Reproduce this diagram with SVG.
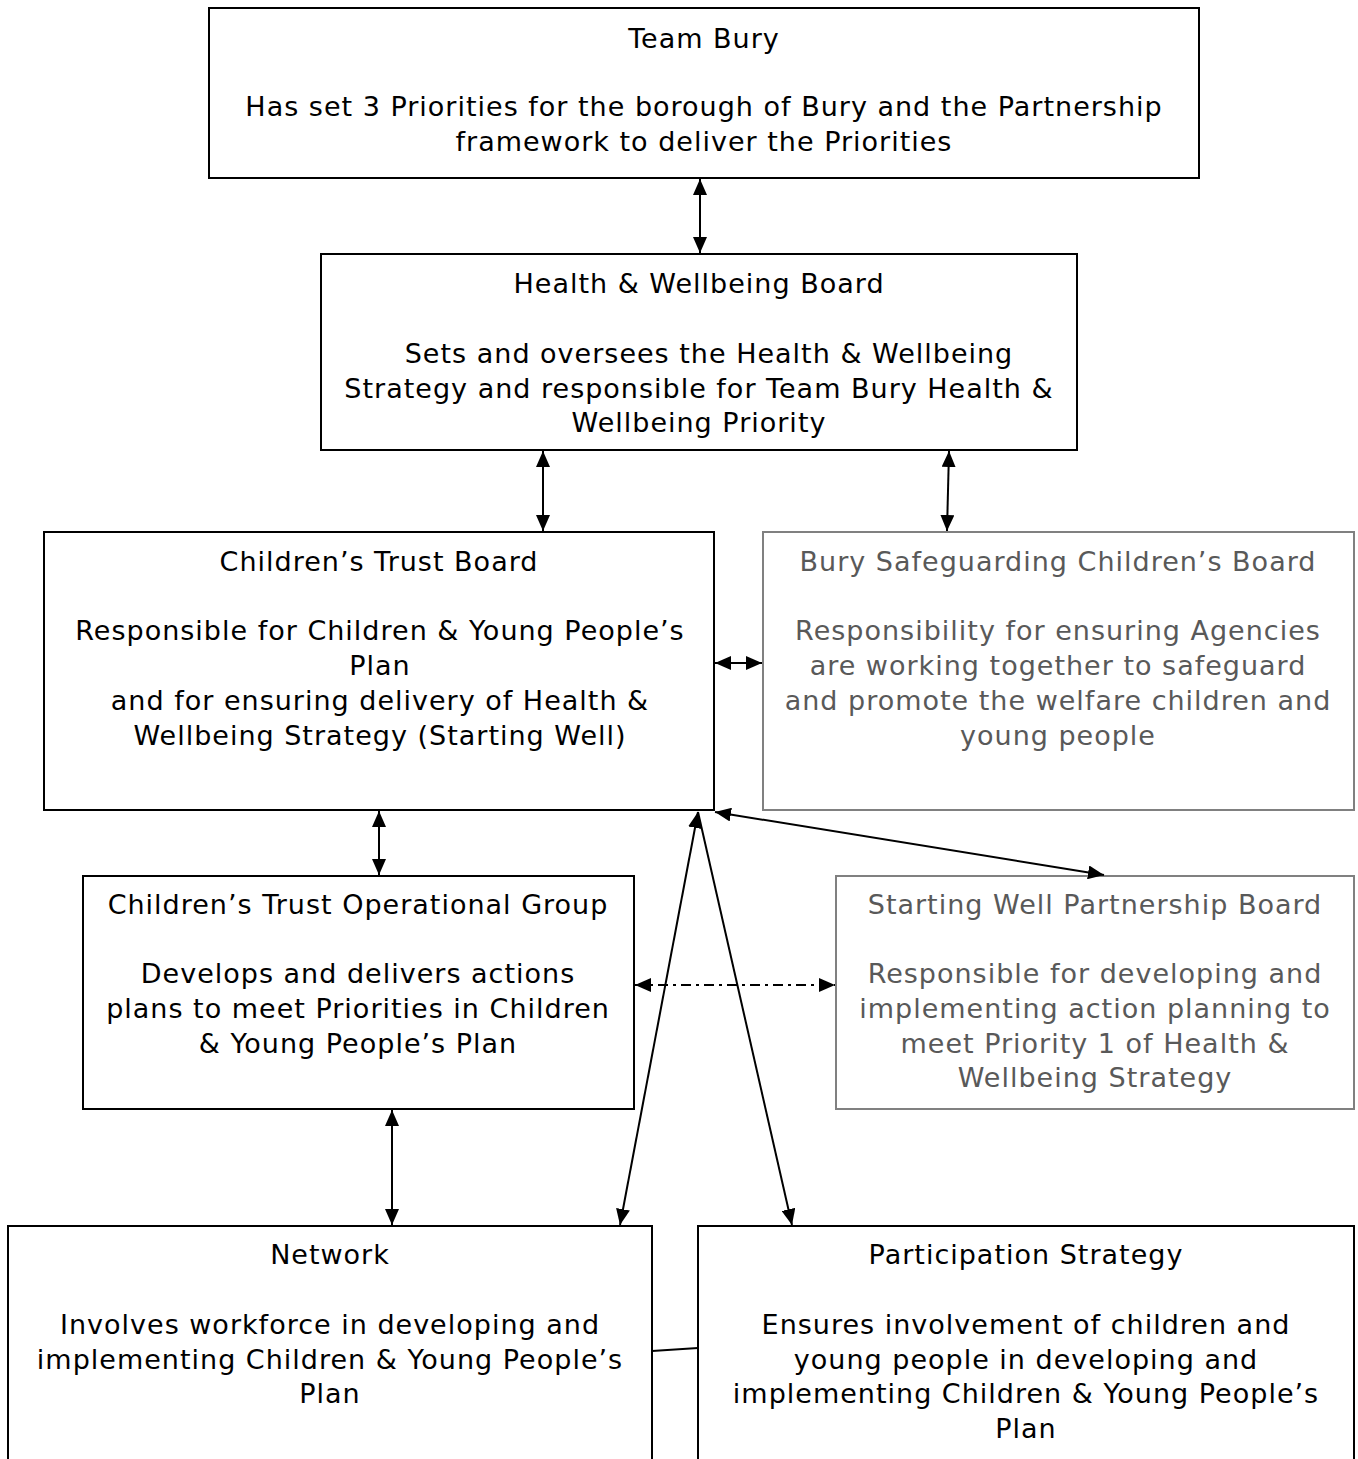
<svg xmlns="http://www.w3.org/2000/svg" width="1358" height="1459" viewBox="0 0 1358 1459">
<style>
text{font-family:"DejaVu Sans",Verdana,sans-serif;font-size:27px;letter-spacing:1px;text-anchor:middle;fill:#000}
.box{fill:#fff;stroke:#000;stroke-width:2}
.gbox{fill:#fff;stroke:#808080;stroke-width:2}
.g text{fill:#595959}
.c{stroke:#000;stroke-width:2;fill:none}
</style>
<defs>
<marker id="ah" viewBox="0 0 16 14" refX="16" refY="7" markerWidth="16" markerHeight="14" markerUnits="userSpaceOnUse" orient="auto-start-reverse">
<path d="M0,0 L16,7 L0,14 Z" fill="#000"/>
</marker>
</defs>
<rect width="1358" height="1459" fill="#fff"/>
<g id="team-bury">
<rect class="box" x="209" y="8" width="990" height="170"/>
<text x="704" y="48">Team Bury</text>
<text x="704" y="116">Has set 3 Priorities for the borough of Bury and the Partnership</text>
<text x="704" y="151">framework to deliver the Priorities</text>
</g>
<g id="hwb">
<rect class="box" x="321" y="254" width="756" height="196"/>
<text x="699" y="293">Health &amp; Wellbeing Board</text>
<text x="709" y="363">Sets and oversees the Health &amp; Wellbeing</text>
<text x="699" y="398">Strategy and responsible for Team Bury Health &amp;</text>
<text x="699" y="432">Wellbeing Priority</text>
</g>
<g id="ctb">
<rect class="box" x="44" y="532" width="670" height="278"/>
<text x="379" y="571">Children’s Trust Board</text>
<text x="380" y="640">Responsible for Children &amp; Young People’s</text>
<text x="380" y="675">Plan</text>
<text x="380" y="710">and for ensuring delivery of Health &amp;</text>
<text x="380" y="745">Wellbeing Strategy (Starting Well)</text>
</g>
<g id="bscb" class="g">
<rect class="gbox" x="763" y="532" width="591" height="278"/>
<text x="1058" y="571">Bury Safeguarding Children’s Board</text>
<text x="1058" y="640">Responsibility for ensuring Agencies</text>
<text x="1058" y="675">are working together to safeguard</text>
<text x="1058" y="710">and promote the welfare children and</text>
<text x="1058" y="745">young people</text>
</g>
<g id="ctog">
<rect class="box" x="83" y="876" width="551" height="233"/>
<text x="358" y="914">Children’s Trust Operational Group</text>
<text x="358" y="983">Develops and delivers actions</text>
<text x="358" y="1018">plans to meet Priorities in Children</text>
<text x="358" y="1053">&amp; Young People’s Plan</text>
</g>
<g id="swpb" class="g">
<rect class="gbox" x="836" y="876" width="518" height="233"/>
<text x="1095" y="914">Starting Well Partnership Board</text>
<text x="1095" y="983">Responsible for developing and</text>
<text x="1095" y="1018">implementing action planning to</text>
<text x="1095" y="1053">meet Priority 1 of Health &amp;</text>
<text x="1095" y="1087">Wellbeing Strategy</text>
</g>
<g id="network">
<rect class="box" x="8" y="1226" width="644" height="240"/>
<text x="330" y="1264">Network</text>
<text x="330" y="1334">Involves workforce in developing and</text>
<text x="330" y="1369">implementing Children &amp; Young People’s</text>
<text x="330" y="1403">Plan</text>
</g>
<g id="participation">
<rect class="box" x="698" y="1226" width="656" height="240"/>
<text x="1026" y="1264">Participation Strategy</text>
<text x="1026" y="1334">Ensures involvement of children and</text>
<text x="1026" y="1369">young people in developing and</text>
<text x="1026" y="1403">implementing Children &amp; Young People’s</text>
<text x="1026" y="1438">Plan</text>
</g>
<g id="connectors">
<line class="c" x1="700" y1="179" x2="700" y2="253" marker-start="url(#ah)" marker-end="url(#ah)"/>
<line class="c" x1="543" y1="451" x2="543" y2="531" marker-start="url(#ah)" marker-end="url(#ah)"/>
<line class="c" x1="949" y1="451" x2="947" y2="531" marker-start="url(#ah)" marker-end="url(#ah)"/>
<line class="c" x1="715" y1="663" x2="762" y2="663" marker-start="url(#ah)" marker-end="url(#ah)"/>
<line class="c" x1="379" y1="811" x2="379" y2="875" marker-start="url(#ah)" marker-end="url(#ah)"/>
<line class="c" x1="715" y1="812" x2="1104" y2="875" marker-start="url(#ah)" marker-end="url(#ah)"/>
<line class="c" x1="698" y1="812" x2="620" y2="1225" marker-start="url(#ah)" marker-end="url(#ah)"/>
<line class="c" x1="698" y1="812" x2="792" y2="1225" marker-end="url(#ah)"/>
<line class="c" x1="392" y1="1110" x2="392" y2="1225" marker-start="url(#ah)" marker-end="url(#ah)"/>
<line class="c" x1="635" y1="985" x2="835" y2="985" stroke-dasharray="10,5,3,5" marker-start="url(#ah)" marker-end="url(#ah)"/>
<line class="c" x1="652" y1="1351" x2="698" y2="1348"/>
</g>
</svg>
